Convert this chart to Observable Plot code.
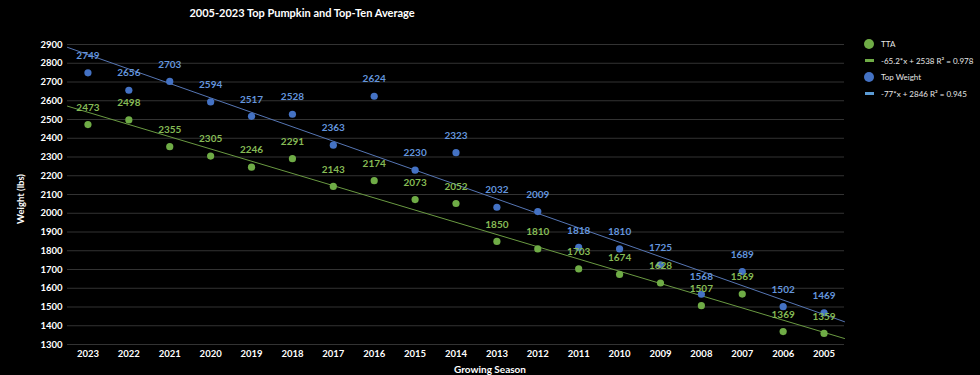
<!DOCTYPE html>
<html>
<head>
<meta charset="utf-8">
<script src="https://cdn.jsdelivr.net/npm/d3@7"></script>
<script src="https://cdn.jsdelivr.net/npm/@observablehq/plot@0.6"></script>
<style>
  html, body { margin: 0; padding: 0; background: #000; }
  #wrap { position: relative; width: 980px; height: 375px; background: #000; font-family: Lato, "Open Sans", sans-serif; color: #fff; overflow: hidden; }
  #chart { position: absolute; left: 0; top: 0; }
  #title { position: absolute; top: 6px; left: 302px; transform: translateX(-50%); font-weight: bold; font-size: 11px; white-space: nowrap; }
  #ytitle { position: absolute; left: 20px; top: 199px; transform: translate(-50%, -50%) rotate(-90deg); font-weight: bold; font-size: 9.5px; white-space: nowrap; }
  #xtitle { position: absolute; left: 490px; top: 369px; transform: translate(-50%, -50%); font-weight: bold; font-size: 10px; white-space: nowrap; }
  #legend { position: absolute; left: 863px; top: 36px; font-size: 8px; color: #e6e6e6; }
  .row { display: flex; align-items: center; height: 16.5px; }
  .sw { width: 12px; height: 12px; display: flex; align-items: center; justify-content: center; margin-right: 6px; }
  .dot { width: 10px; height: 10px; border-radius: 50%; }
  .ln { width: 9px; height: 3px; }
</style>
</head>
<body>
<div id="wrap">
  <div id="chart"></div>
  <div id="title">2005-2023 Top Pumpkin and Top-Ten Average</div>
  <div id="ytitle">Weight (lbs)</div>
  <div id="xtitle">Growing Season</div>
  <div id="legend"></div>
</div>
<script>
// ---- data ----
const seasons = ["2023","2022","2021","2020","2019","2018","2017","2016","2015","2014","2013","2012","2011","2010","2009","2008","2007","2006","2005"];
const ttaValues = [2473, 2498, 2355, 2305, 2246, 2291, 2143, 2174, 2073, 2052, 1850, 1810, 1703, 1674, 1628, 1507, 1569, 1369, 1359];
const topWeightValues = [2749, 2656, 2703, 2594, 2517, 2528, 2363, 2624, 2230, 2323, 2032, 2009, 1818, 1810, 1725, 1568, 1689, 1502, 1469];
const yTicks = [1300, 1400, 1500, 1600, 1700, 1800, 1900, 2000, 2100, 2200, 2300, 2400, 2500, 2600, 2700, 2800, 2900];
const legendItems = [
  {label: "TTA", kind: "dot", color: "#6fac46"},
  {label: "-65.2*x + 2538 R\u00B2 = 0.978", kind: "line", color: "#6fac46"},
  {label: "Top Weight", kind: "dot", color: "#4472c4"},
  {label: "-77*x + 2846 R\u00B2 = 0.945", kind: "line", color: "#5b9bd5"}
];

// ---- styles ----
const C = {
  ttaDot: "#6fac46", ttaLabel: "#86bb55", ttaTrend: "#6a9a42",
  topDot: "#4472c4", topLabel: "#6395dd", topTrend: "#5676b4",
  grid: "#333333"
};

const idx = seasons.map((_, i) => i);
const ttaData = idx.map(i => ({i, v: ttaValues[i]}));
const topData = idx.map(i => ({i, v: topWeightValues[i]}));

function fit(vals) {
  const mx = d3.mean(idx), my = d3.mean(vals);
  let sxy = 0, sxx = 0;
  vals.forEach((v, i) => { sxy += (i - mx) * (v - my); sxx += (i - mx) ** 2; });
  const b = sxy / sxx, a = my - b * mx;
  return x => a + b * x;
}
const xDomain = [-0.5, seasons.length - 0.5];
const fTta = fit(ttaValues), fTop = fit(topWeightValues);
const trendTta = xDomain.map(x => ({x, y: fTta(x)}));
const trendTop = xDomain.map(x => ({x, y: fTop(x)}));

const plot = Plot.plot({
  width: 980,
  height: 375,
  marginTop: 44,
  marginBottom: 31,
  marginLeft: 67,
  marginRight: 136,
  style: {background: "#000", color: "#fff", fontFamily: "Lato, 'Open Sans', sans-serif"},
  x: {type: "linear", domain: xDomain},
  y: {domain: [1300, 2900]},
  marks: [
    Plot.ruleY(yTicks, {stroke: C.grid, strokeWidth: 1}),
    Plot.axisY({ticks: yTicks, tickFormat: d => String(d), tickSize: 0, tickPadding: 5, label: null, fontSize: 9.5, fontWeight: "bold", fill: "#fff"}),
    Plot.axisX({ticks: idx, tickFormat: i => seasons[i], tickSize: 0, tickPadding: 6, label: null, fontSize: 9.5, fontWeight: "bold", fill: "#fff"}),
    Plot.line(trendTop, {x: "x", y: "y", stroke: C.topTrend, strokeWidth: 1}),
    Plot.line(trendTta, {x: "x", y: "y", stroke: C.ttaTrend, strokeWidth: 1}),
    Plot.dot(topData, {x: "i", y: "v", r: 3.6, fill: C.topDot, stroke: "none"}),
    Plot.dot(ttaData, {x: "i", y: "v", r: 3.6, fill: C.ttaDot, stroke: "none"}),
    Plot.text(topData, {x: "i", y: "v", text: d => String(d.v), dy: -17, fill: C.topLabel, fontSize: 10, fontWeight: "bold"}),
    Plot.text(ttaData, {x: "i", y: "v", text: d => String(d.v), dy: -17, fill: C.ttaLabel, fontSize: 10, fontWeight: "bold"})
  ]
});
document.getElementById("chart").appendChild(plot);

const legend = d3.select("#legend");
legendItems.forEach(it => {
  const row = legend.append("div").attr("class", "row");
  row.append("div").attr("class", "sw")
    .append("div").attr("class", it.kind === "dot" ? "dot" : "ln").style("background", it.color);
  row.append("div").text(it.label);
});
</script>
</body>
</html>
